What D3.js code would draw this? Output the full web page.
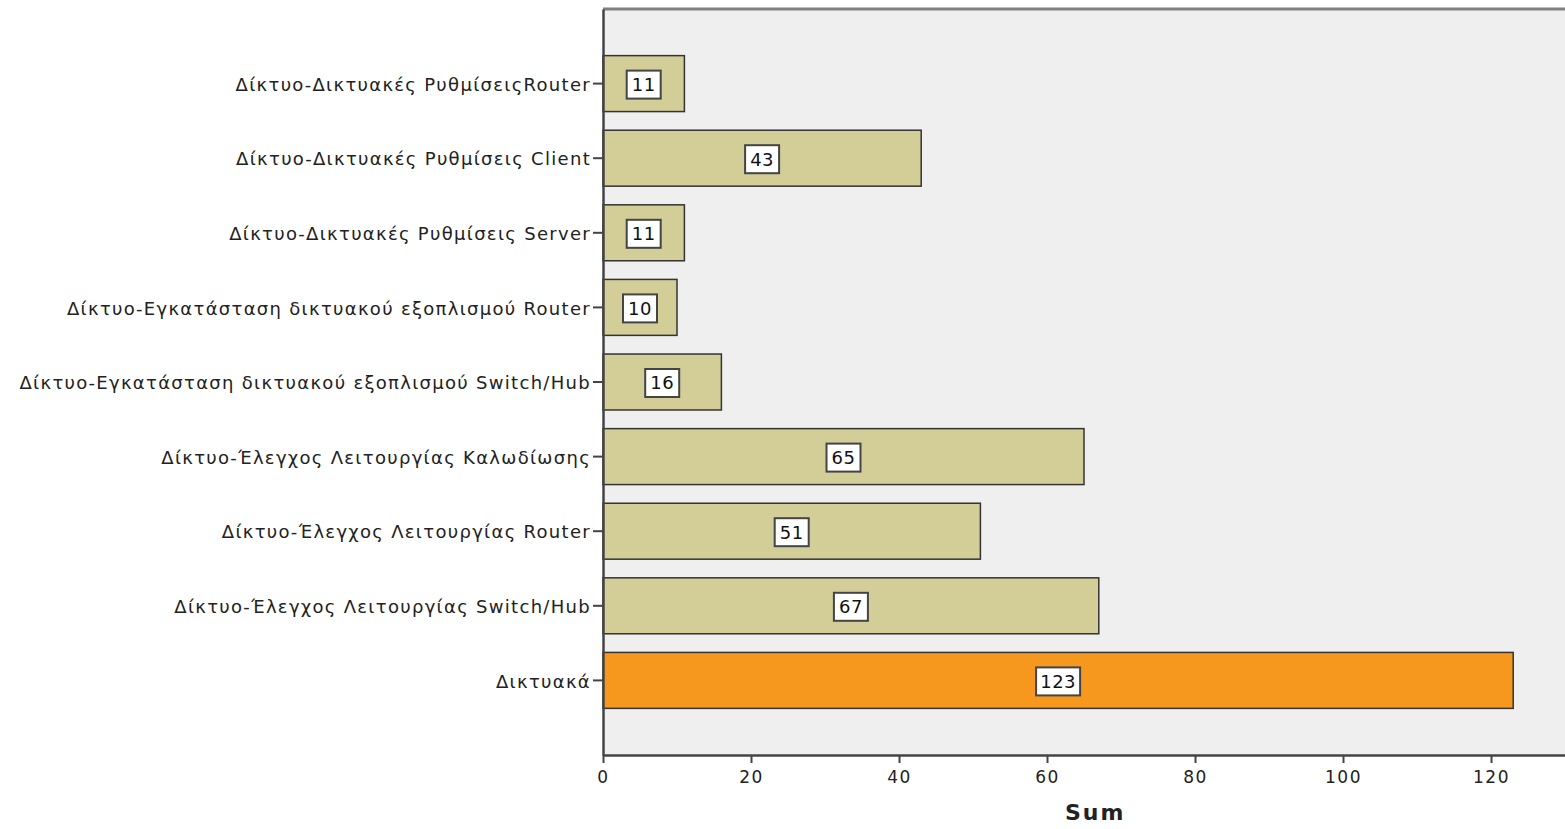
<!DOCTYPE html>
<html>
<head>
<meta charset="utf-8">
<script src="https://cdn.jsdelivr.net/npm/d3@7"></script>
<style>
body { margin: 0; background: #fff; }
svg text { font-family: "DejaVu Sans", sans-serif; }
</style>
</head>
<body>
<div id="chart"></div>
<script>
var categories = [
	"Δίκτυο-Δικτυακές ΡυθμίσειςRouter",
	"Δίκτυο-Δικτυακές Ρυθμίσεις Client",
	"Δίκτυο-Δικτυακές Ρυθμίσεις Server",
	"Δίκτυο-Εγκατάσταση δικτυακού εξοπλισμού Router",
	"Δίκτυο-Εγκατάσταση δικτυακού εξοπλισμού Switch/Hub",
	"Δίκτυο-Έλεγχος Λειτουργίας Καλωδίωσης",
	"Δίκτυο-Έλεγχος Λειτουργίας Router",
	"Δίκτυο-Έλεγχος Λειτουργίας Switch/Hub",
	"Δικτυακά"
];
var sums = [11, 43, 11, 10, 16, 65, 51, 67, 123];
var xTicks = [0, 20, 40, 60, 80, 100, 120];
var highlight = "Δικτυακά";

var width = 1565, height = 829;
var margin = {top: 9, right: 0, bottom: 74, left: 603};
var w = width - margin.left - margin.right;
var h = height - margin.top - margin.bottom;

var svg = d3.select("#chart")
	.append("svg")
	.attr("width", width)
	.attr("height", height)
	.append("g")
	.attr("transform", "translate(" + margin.left + "," + margin.top + ")");

var x = d3.scaleLinear().domain([0, 130]).range([0, 962]);
var y = d3.scaleBand().domain(categories).range([0, h])
	.paddingInner(0.25).paddingOuter(0.625);

// background
svg.append("rect")
	.attr("x", 0).attr("y", 0)
	.attr("width", w).attr("height", h)
	.style("fill", "#efefef");
svg.append("line")
	.attr("x1", 0).attr("x2", w).attr("y1", 0).attr("y2", 0)
	.style("stroke", "#808080").style("stroke-width", 3);

// bars
svg.selectAll("rect.bar")
	.data(categories)
	.enter()
	.append("rect")
	.attr("class", "bar")
	.attr("x", 0)
	.attr("y", function(d) { return y(d); })
	.attr("width", function(d, i) { return x(sums[i]); })
	.attr("height", y.bandwidth())
	.style("fill", function(d) { return d == highlight ? "#f7981e" : "#d3ce98"; })
	.style("stroke", "#333")
	.style("stroke-width", 1.5);

// value boxes
var lab = svg.selectAll("g.lab")
	.data(categories)
	.enter()
	.append("g")
	.attr("class", "lab")
	.attr("transform", function(d, i) {
		return "translate(" + x(sums[i] / 2) + "," + (y(d) + y.bandwidth() / 2 + 1) + ")";
	});
lab.append("rect")
	.attr("x", function(d, i) { return String(sums[i]).length > 2 ? -22 : -17; })
	.attr("y", -14)
	.attr("width", function(d, i) { return String(sums[i]).length > 2 ? 44 : 34; })
	.attr("height", 28)
	.style("fill", "#fff")
	.style("stroke", "#444")
	.style("stroke-width", 2);
lab.append("text")
	.text(function(d, i) { return sums[i]; })
	.attr("text-anchor", "middle")
	.attr("dy", "0.36em")
	.style("font-size", "18px")
	.style("letter-spacing", "0.5px")
	.style("fill", "#111");

// x axis
var xAxis = svg.append("g")
	.attr("transform", "translate(0," + h + ")")
	.call(d3.axisBottom(x).tickValues(xTicks).tickSize(8).tickSizeOuter(0));
xAxis.select(".domain").style("stroke", "#444").style("stroke-width", 2.5);
xAxis.selectAll(".tick line").style("stroke", "#444").style("stroke-width", 2);
xAxis.selectAll(".tick text")
	.style("font-size", "17px")
	.style("letter-spacing", "1.5px")
	.style("fill", "#222")
	.attr("dy", "1em");

// y axis
var yAxis = svg.append("g")
	.call(d3.axisLeft(y).tickSize(10).tickSizeOuter(0).tickPadding(2));
yAxis.select(".domain").style("stroke", "#444").style("stroke-width", 2.5);
yAxis.selectAll(".tick line").style("stroke", "#444").style("stroke-width", 2);
yAxis.selectAll(".tick text")
	.attr("dy", "0.4em")
	.style("font-size", "18px")
	.style("letter-spacing", "1.3px")
	.style("fill", "#222");

svg.append("text")
	.attr("x", x(66.5))
	.attr("y", h + 65)
	.attr("text-anchor", "middle")
	.style("font-size", "22px")
	.style("font-weight", "bold")
	.style("letter-spacing", "2px")
	.style("fill", "#222")
	.text("Sum");
</script>
</body>
</html>
